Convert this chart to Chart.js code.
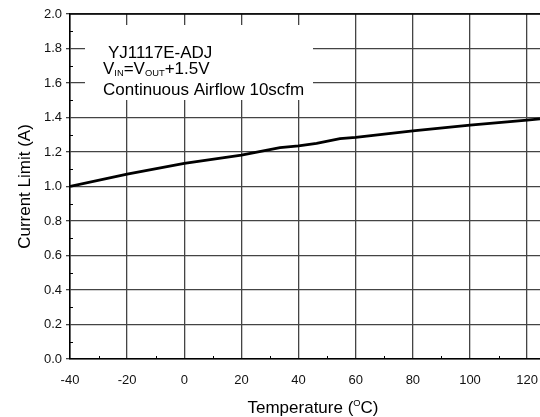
<!DOCTYPE html>
<html>
<head>
<meta charset="utf-8">
<script src="https://cdn.jsdelivr.net/npm/chart.js@4/dist/chart.umd.min.js"></script>
<style>
  html, body { margin: 0; padding: 0; background: #fff; }
  #wrap { width: 540px; height: 417px; }
</style>
</head>
<body>
<div id="wrap"><canvas id="limit-chart"></canvas></div>
<script>
// values
const temps    = [-40, -20, 0, 20, 33.5, 40, 46.3, 54.5, 60, 80, 100, 120, 124.5];
const currents = [1.00, 1.072, 1.134, 1.182, 1.225, 1.235, 1.25, 1.277, 1.285, 1.322, 1.356, 1.385, 1.392];

const xTicks = [-40, -20, 0, 20, 40, 60, 80, 100, 120];
const yTicks = [0, 0.2, 0.4, 0.6, 0.8, 1.0, 1.2, 1.4, 1.6, 1.8, 2.0];
const xMinor = [-30, -10, 10, 30, 50, 70, 90, 110];
const yMinor = [0.1, 0.3, 0.5, 0.7, 0.9, 1.1, 1.3, 1.5, 1.7, 1.9];

const yTitle = 'Current Limit (A)';
const xTitle = [['Temperature (', 0], ['O', 1], ['C)', 0]];
const noteLines = [
  [['YJ1117E-ADJ', 0]],
  [['V', 0], ['IN', -1], ['=V', 0], ['OUT', -1], ['+1.5V', 0]],
  [['Continuous Airflow 10scfm', 0]]
];

const FONT = "'Liberation Sans', Arial, sans-serif";

// draws text runs; flag 1 = superscript, -1 = subscript
function runs(ctx, parts, x, y, size, align) {
  const small = size * 0.55;
  const w = parts.reduce((s, p) => {
    ctx.font = (p[1] ? small : size) + 'px ' + FONT;
    return s + ctx.measureText(p[0]).width;
  }, 0);
  let cx = align === 'center' ? x - w / 2 : x;
  parts.forEach(p => {
    ctx.font = (p[1] ? small : size) + 'px ' + FONT;
    const dy = p[1] === 1 ? -6.5 : (p[1] === -1 ? 2.5 : 0);
    ctx.fillText(p[0], cx, y + dy);
    cx += ctx.measureText(p[0]).width;
  });
}

const extras = {
  id: 'extras',
  beforeDatasetsDraw(chart) {
    const ctx = chart.ctx;
    const a = chart.chartArea;
    const xs = chart.scales.x, ys = chart.scales.y;
    ctx.save();
    // minor ticks on the inside of the axes
    ctx.strokeStyle = '#000';
    ctx.lineWidth = 1;
    ctx.beginPath();
    xMinor.forEach(v => {
      const px = Math.round(xs.getPixelForValue(v)) + 0.5;
      ctx.moveTo(px, a.bottom); ctx.lineTo(px, a.bottom - 3);
    });
    yMinor.forEach(v => {
      const py = Math.round(ys.getPixelForValue(v)) + 0.5;
      ctx.moveTo(a.left, py); ctx.lineTo(a.left + 3, py);
    });
    ctx.stroke();
    // top frame line
    ctx.lineWidth = 1.5;
    ctx.beginPath();
    ctx.moveTo(a.left, a.top); ctx.lineTo(a.right, a.top);
    ctx.stroke();

    // note box
    ctx.fillStyle = '#fff';
    ctx.fillRect(a.left + 15, a.top + 11, 228, 75);
    ctx.fillStyle = '#000';
    ctx.textBaseline = 'alphabetic';
    ctx.textAlign = 'left';
    runs(ctx, noteLines[0], a.left + 38, a.top + 43.5, 17, 'left');
    runs(ctx, noteLines[1], a.left + 33, a.top + 59.5, 17, 'left');
    runs(ctx, noteLines[2], a.left + 33, a.top + 80.5, 17, 'left');

    // axis titles
    runs(ctx, xTitle, 313, 412.5, 17, 'center');
    ctx.translate(25, (a.top + a.bottom) / 2);
    ctx.rotate(-Math.PI / 2);
    ctx.textAlign = 'center';
    ctx.textBaseline = 'middle';
    ctx.font = '17px ' + FONT;
    ctx.fillText(yTitle, 0, 0);
    ctx.restore();
  }
};

new Chart(document.getElementById('limit-chart'), {
  type: 'line',
  data: {
    datasets: [{
      data: temps.map((t, i) => ({ x: t, y: currents[i] })),
      borderColor: '#000',
      borderWidth: 2.8,
      pointRadius: 0,
      tension: 0,
      fill: false
    }]
  },
  options: {
    responsive: true,
    maintainAspectRatio: false,
    animation: false,
    events: [],
    layout: { padding: { top: 14, right: 0, left: 0, bottom: 0 } },
    plugins: { legend: { display: false }, tooltip: { enabled: false } },
    scales: {
      x: {
        type: 'linear',
        min: -40,
        max: 124.5,
        afterBuildTicks: s => { s.ticks = xTicks.map(v => ({ value: v })); },
        afterFit: s => { s.height = 58; s.paddingLeft = 0; s.paddingRight = 0; },
        grid: { color: '#444', lineWidth: 1.3, drawTicks: false },
        border: { display: true, color: '#000', width: 1.5 },
        ticks: { color: '#111', padding: 14, font: { family: FONT, size: 13 } }
      },
      y: {
        min: 0,
        max: 2,
        afterBuildTicks: s => { s.ticks = yTicks.map(v => ({ value: v })); },
        afterFit: s => { s.width = 70; s.paddingTop = 0; s.paddingBottom = 0; },
        grid: { color: '#444', lineWidth: 1.3, tickLength: 4 },
        border: { display: true, color: '#000', width: 1.5 },
        ticks: { color: '#111', padding: 4, font: { family: FONT, size: 13 },
                 callback: v => v.toFixed(1) }
      }
    }
  },
  plugins: [extras]
});
</script>
</body>
</html>
